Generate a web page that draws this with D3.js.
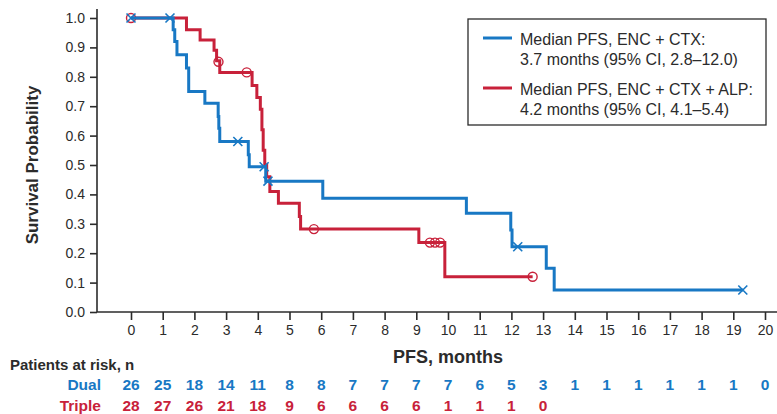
<!DOCTYPE html>
<html>
<head>
<meta charset="utf-8">
<script src="https://cdn.jsdelivr.net/npm/d3@7"></script>
<style>
  body { margin: 0; background: #fff; }
  text { font-family: "Liberation Sans", Arial, sans-serif; }
</style>
</head>
<body>
<div id="chart"></div>
<script>
// Kaplan-Meier steps: time of change and survival after it
const dualTimes = [0, 1.33, 1.38, 1.45, 1.75, 1.82, 2.33, 2.75, 2.77, 2.8, 3.7, 3.73, 4.25, 6.05, 10.58, 11.98, 12.02, 13.1, 13.35, 19.3];
const dualSurv  = [1.0, 0.96, 0.92, 0.875, 0.83, 0.75, 0.71, 0.665, 0.625, 0.58, 0.535, 0.494, 0.445, 0.387, 0.336, 0.279, 0.222, 0.149, 0.075, 0.075];
const dualCensT = [0, 1.23, 3.37, 4.2, 4.32, 12.2, 19.3];
const dualCensS = [1.0, 1.0, 0.58, 0.494, 0.445, 0.222, 0.075];

const tripleTimes = [0, 1.75, 2.18, 2.62, 2.7, 2.8, 3.82, 3.97, 4.08, 4.13, 4.17, 4.22, 4.28, 4.38, 4.65, 5.31, 5.35, 9.08, 9.9, 12.67];
const tripleSurv  = [1.0, 0.96, 0.925, 0.89, 0.855, 0.815, 0.77, 0.73, 0.69, 0.62, 0.55, 0.50, 0.46, 0.41, 0.37, 0.325, 0.282, 0.236, 0.12, 0.12];
const tripleCensT = [0, 2.76, 3.65, 5.77, 9.43, 9.59, 9.75, 12.67];
const tripleCensS = [1.0, 0.851, 0.815, 0.282, 0.236, 0.236, 0.236, 0.12];

const xTicks = d3.range(0, 21);
const yTicks = [0, 0.1, 0.2, 0.3, 0.4, 0.5, 0.6, 0.7, 0.8, 0.9, 1.0];
const dualRisk   = [26, 25, 18, 14, 11, 8, 8, 7, 7, 7, 7, 6, 5, 3, 1, 1, 1, 1, 1, 1, 0];
const tripleRisk = [28, 27, 26, 21, 18, 9, 6, 6, 6, 6, 1, 1, 1, 0];

const legendLines = [
  ["Median PFS, ENC + CTX:", "3.7 months (95% CI, 2.8\u201312.0)"],
  ["Median PFS, ENC + CTX + ALP:", "4.2 months (95% CI, 4.1\u20135.4)"]
];

const blue = "#1878c4", red = "#c8213a", ink = "#2b2b2b";
const W = 777, H = 414;

const svg = d3.select("#chart").append("svg")
    .attr("width", W).attr("height", H);

const x = d3.scaleLinear().domain([0, 20]).range([131, 765]);
const y = d3.scaleLinear().domain([0, 1]).range([312, 18]);

// axes lines
svg.append("line")
    .attr("x1", 97).attr("x2", 97).attr("y1", 9).attr("y2", y(0))
    .attr("stroke", ink).attr("stroke-width", 1.6);
svg.append("line")
    .attr("x1", 97).attr("x2", W).attr("y1", y(0)).attr("y2", y(0))
    .attr("stroke", ink).attr("stroke-width", 1.6);

// y axis
const yAxis = svg.append("g")
    .attr("transform", "translate(97,0)")
    .call(d3.axisLeft(y).tickValues(yTicks).tickFormat(d3.format(".1f")).tickSize(7).tickPadding(5));
yAxis.select(".domain").remove();
yAxis.selectAll("line").attr("stroke", ink).attr("stroke-width", 1.6);
yAxis.selectAll("text").attr("fill", ink).style("font-size", "14px")
    .style("font-family", "Liberation Sans, Arial, sans-serif");

// x axis
const xAxis = svg.append("g")
    .attr("transform", `translate(0,${y(0)})`)
    .call(d3.axisBottom(x).tickValues(xTicks).tickFormat(d3.format("d")).tickSize(8).tickPadding(5));
xAxis.select(".domain").remove();
xAxis.selectAll("line").attr("stroke", ink).attr("stroke-width", 1.6);
xAxis.selectAll("text").attr("fill", ink).style("font-size", "14px")
    .style("font-family", "Liberation Sans, Arial, sans-serif");

// axis titles
svg.append("text")
    .attr("transform", `translate(38,${(y(0) + y(1)) / 2}) rotate(-90)`)
    .attr("text-anchor", "middle")
    .attr("font-weight", "bold").attr("font-size", 17).attr("fill", ink)
    .text("Survival Probability");
svg.append("text")
    .attr("x", 448).attr("y", 363)
    .attr("text-anchor", "middle")
    .attr("font-weight", "bold").attr("font-size", 18).attr("fill", ink)
    .text("PFS, months");

// curves
const line = d3.line()
    .x(d => x(d[0]))
    .y(d => y(d[1]))
    .curve(d3.curveStepAfter);

const series = [
  { t: tripleTimes, s: tripleSurv, ct: tripleCensT, cs: tripleCensS, color: red, mark: "circle" },
  { t: dualTimes, s: dualSurv, ct: dualCensT, cs: dualCensS, color: blue, mark: "cross" }
];

series.forEach(function (sr) {
    const pts = sr.t.map((t, i) => [t, sr.s[i]]);
    svg.append("path")
        .datum(pts)
        .attr("d", line)
        .attr("fill", "none")
        .attr("stroke", sr.color)
        .attr("stroke-width", 3);

    const cens = sr.ct.map((t, i) => [t, sr.cs[i]]);
    const g = svg.append("g");
    if (sr.mark === "circle") {
        g.selectAll("circle").data(cens).join("circle")
            .attr("cx", d => x(d[0])).attr("cy", d => y(d[1]))
            .attr("r", 4.5)
            .attr("fill", "none").attr("stroke", sr.color).attr("stroke-width", 1.4);
    } else {
        const s = 4.5;
        g.selectAll("path").data(cens).join("path")
            .attr("d", d => {
                const cx = x(d[0]), cy = y(d[1]);
                return `M${cx - s},${cy - s}L${cx + s},${cy + s}M${cx - s},${cy + s}L${cx + s},${cy - s}`;
            })
            .attr("fill", "none").attr("stroke", sr.color).attr("stroke-width", 1.6);
    }
});

// legend
const lg = svg.append("g");
lg.append("rect")
    .attr("x", 468).attr("y", 19).attr("width", 298).attr("height", 106)
    .attr("fill", "#fff").attr("stroke", ink).attr("stroke-width", 1.3);
const legendColors = [blue, red];
legendLines.forEach(function (lines, i) {
    const top = 38 + i * 50;
    lg.append("line")
        .attr("x1", 483).attr("x2", 512).attr("y1", top).attr("y2", top)
        .attr("stroke", legendColors[i]).attr("stroke-width", 3);
    lines.forEach(function (txt, j) {
        lg.append("text")
            .attr("x", 520).attr("y", top + 7 + j * 20)
            .attr("font-size", 16).attr("fill", ink)
            .text(txt);
    });
});

// risk table
svg.append("text")
    .attr("x", 10).attr("y", 370)
    .attr("font-weight", "bold").attr("font-size", 15).attr("fill", ink)
    .text("Patients at risk, n");

const rows = [
  { name: "Dual", vals: dualRisk, color: blue, yy: 390 },
  { name: "Triple", vals: tripleRisk, color: red, yy: 411 }
];
rows.forEach(function (r) {
    svg.append("text")
        .attr("x", 101).attr("y", r.yy)
        .attr("text-anchor", "end")
        .attr("font-weight", "bold").attr("font-size", 15.5).attr("fill", r.color)
        .text(r.name);
    svg.append("g").selectAll("text").data(r.vals).join("text")
        .attr("x", (d, i) => x(xTicks[i]))
        .attr("y", r.yy)
        .attr("text-anchor", "middle")
        .attr("font-weight", "bold").attr("font-size", 15.5).attr("fill", r.color)
        .text(d => d);
});
</script>
</body>
</html>
